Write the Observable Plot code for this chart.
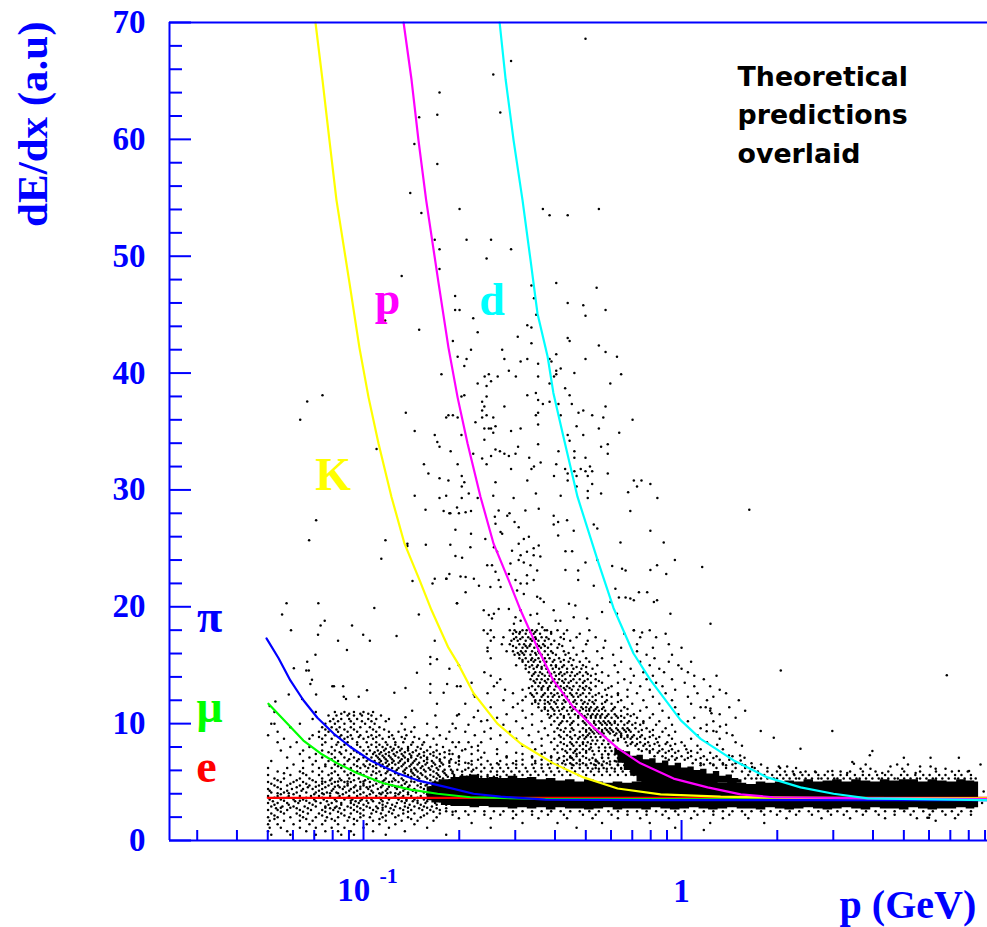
<!DOCTYPE html>
<html><head><meta charset="utf-8">
<script src="https://cdn.jsdelivr.net/npm/d3@7"></script>
<script src="https://cdn.jsdelivr.net/npm/@observablehq/plot@0.6"></script>
<style>html,body{margin:0;padding:0;background:#fff}svg{display:block}</style>
</head><body><div id="chart"></div>
<script>
// All p values are stored as log10(p in GeV); dE/dx in a.u.
const yMajor=[0,10,20,30,40,50,60,70];
const yMinor=[2,4,6,8,12,14,16,18,22,24,26,28,32,34,36,38,42,44,46,48,52,54,56,58,62,64,66,68];
const xMajor=[0.1,1];
const xMinor=[.03,.04,.05,.06,.07,.08,.09,.2,.3,.4,.5,.6,.7,.8,.9,2,3,4,5,6,7,8,9];

// theory curves [log10 p, dE/dx]
const curveE=[[-1.301,3.65],[.962,3.65]];
const curveMu=[[-1.299,11.7],[-1.239,10],[-1.189,8.55],[-1.135,7.45],[-1.082,6.6],[-1.019,5.75],[-.937,4.9],[-.852,4.35],[-.767,4],[-.664,3.7],[-.425,3.55],[.962,3.5]];
const curvePi=[[-1.305,17.3],[-1.267,15.6],[-1.23,13.7],[-1.189,12],[-1.145,10.5],[-1.094,9.15],[-1.041,8],[-.978,6.85],[-.893,5.75],[-.83,5.15],[-.736,4.55],[-.654,4],[-.569,3.75],[-.428,3.5],[-.097,3.45],[.962,3.45]];
const curveK=[[-1.151,70],[-1.129,65.1],[-1.107,59.9],[-1.085,54.8],[-1.044,47.7],[-1.013,42.2],[-.984,37.9],[-.953,34],[-.912,29.4],[-.871,25.4],[-.824,22.3],[-.786,19.7],[-.733,16.5],[-.704,15.2],[-.654,12.6],[-.579,10],[-.506,8.3],[-.403,6.6],[-.308,5.4],[-.201,4.45],[-.066,3.95],[.123,3.75],[.374,3.65],[.962,3.6]];
const curveP=[[-.874,70],[-.849,65.1],[-.827,59.9],[-.803,54.8],[-.764,47.7],[-.733,42.2],[-.704,37.9],[-.673,34],[-.632,29.4],[-.591,25.4],[-.544,22.3],[-.506,19.7],[-.453,16.5],[-.403,13.7],[-.34,11.4],[-.277,9.7],[-.201,7.9],[-.129,6.6],[-.025,5.3],[.082,4.55],[.186,3.95],[.289,3.7],[.626,3.6],[.962,3.55]];
const curveD=[[-.572,70],[-.553,65.1],[-.528,59.9],[-.5,54.8],[-.475,49.7],[-.453,45.1],[-.421,41.4],[-.403,38.3],[-.371,34.5],[-.327,29.4],[-.264,24],[-.214,19.9],[-.151,16],[-.097,13.7],[-.003,10.3],[.06,8.7],[.164,6.85],[.27,5.4],[.374,4.55],[.478,4],[.585,3.6],[.962,3.45]];

// solid band of tracks: log10 p, upper and lower edge
const bandLogP=[-.8,-.77,-.74,-.71,-.68,-.65,-.62,-.59,-.56,-.53,-.5,-.47,-.44,-.41,-.38,-.35,-.32,-.29,-.26,-.23,-.2,-.17,-.14,-.11,-.08,-.05,-.02,.01,.04,.07,.1,.13,.16,.19,.22,.25,.28,.31,.34,.37,.4,.43,.46,.49,.52,.55,.58,.61,.64,.67,.7,.73,.76,.79,.82,.85,.88,.91,.934];
const bandTop=[4.6,5,5.2,5.4,5.5,5.6,5.3,5.4,5.3,5.5,5.3,5.4,5.2,5.3,5.1,5.2,5.0,5.2,5.0,4.9,5.0,4.9,5,5.1,5,5,5.1,5,5.1,5,5,4.9,5,4.9,4.8,5,4.9,5,5.1,5,5.2,5,5.1,5.2,5,5.2,5.1,5,5.2,5.1,5.2,5.2,5,5.2,5.1,5,5.2,5.1,5];
const bandBottom=[3.4,3.2,3,2.9,2.9,2.8,2.9,2.8,2.8,2.7,2.8,2.7,2.8,2.6,2.8,2.7,2.7,2.6,2.7,2.8,2.6,2.7,2.7,2.6,2.8,2.7,2.6,2.7,2.8,2.7,2.6,2.7,2.8,2.7,2.7,2.6,2.8,2.7,2.6,2.7,2.8,2.7,2.6,2.7,2.8,2.7,2.6,2.8,2.7,2.7,2.6,2.8,2.7,2.6,2.7,2.7,2.8,2.7,2.8];
const coreLogP=[-.21,-.19,-.17,-.15,-.13,-.11,-.09,-.07,-.05,-.03,-.01,.01,.03,.05,.07,.09,.11,.13,.15,.17,.19];
const coreTop=[7.9,7.7,7.6,7.2,7.3,6.9,7,6.6,6.8,6.4,6.6,6.2,6.3,6,6.1,5.7,5.9,5.5,5.6,5.3,5.2];
const coreBottom=[7.3,6.6,6,5.5,5,4.9,4.9,4.9,4.9,4.9,4.9,4.9,4.9,4.9,4.9,4.9,4.9,4.9,4.9,4.9,4.9];

// isolated tracks [log10 p, dE/dx, ...]
const sparseTop=[-.302,68.6,-.536,66.7,-.592,65.55,-.761,64,-.768,62.1,-.825,61.9,-.57,62.3,-.84,59.6,-.768,57.9,-.853,55.4,-.698,54.05,-.818,53.7,-.436,54.05,-.415,53.5,-.358,53.5,-.26,54.05,-.776,51.4,-.676,51.4,-.599,51.4,-.761,50.6,-.536,50.6,-.613,49.8,-.761,48.9,-.88,48.3,-.394,47.7,-.472,47.5,-.267,47.3,-.712,46.6,-.464,46.4,-.358,46,-.309,45.8,-.712,45.4,-.698,45.4,-.239,45.4,-.457,45,-.302,44.9,-.655,44.7,-.932,44.5,-.825,43.7,-.485,44.1,-.472,43.9,-.641,43.5,-.515,43.1,-.719,42.75,-.358,43,-.352,42.75,-.472,42.55,-.26,42.35,-.662,42,-.564,42,-.239,41.8,-.704,41.4,-.394,41.6,-.203,41.4,-.676,41.2,-.557,41.2,-.485,41.2,-.506,41,-.415,41.2,-.409,41,-.302,41.2,-.451,40.8,-.683,40.6,-.38,40.4,-.394,40.2,-.543,40.2,-.337,40];
const sparseMid=[-.755,39.9,-.619,39.7,-.606,39.9,-.578,39.7,-.521,39.7,-.451,39.7,-.401,39.7,-.394,39.9,-.19,39.9,-.599,39.3,-.641,39.1,-.415,39.1,-.613,38.9,-.224,39.1,-.366,38.7,-.683,38.1,-.692,38,-.485,38.1,-.458,38.3,-.352,38.1,-.613,38,-.451,37.7,-.627,37.55,-.415,37.55,-.436,37.35,-.387,37.35,-.345,37.35,-.62,37.15,-.557,37.15,-.239,37.15,-.867,36.6,-.627,36.8,-.451,36.6,-.309,36.8,-.324,36.6,-.458,36.4,-.38,36.4,-.74,36.2,-.733,36.4,-.719,36.4,-.704,36.2,-.613,36.4,-.627,36.2,-.592,36.2,-.281,36.4,-.246,36.2,-.154,36,-.648,35.8,-.451,35.6,-.585,35.45,-.62,35.25,-.606,35.25,-.599,35.25,-.536,35.05,-.506,35.25,-.33,35.45,-.26,35.25,-.839,35.05,-.592,34.9,-.776,34.7,-.692,34.7,-.358,34.7,-.309,34.7,-.196,34.9,-.62,34.3,-.352,34.2,-.768,34.1,-.761,33.7,-.451,33.9,-.514,33.7,-.253,33.7,-.232,33.9,-.726,33.3,-.585,33.45,-.571,33.3,-.557,33.1,-.543,32.9,-.522,33.1,-.387,33.3,-.337,33.3,-.232,33.1,-.655,33.1,-.627,32.7,-.599,32.9,-.479,32.75,-.337,32.75,-.302,32.75,-.443,32.35,-.81,32.2,-.704,32.2,-.613,32.2,-.394,32.2,-.536,31.8,-.472,31.8,-.464,32,-.366,31.8,-.317,31.8,-.288,32,-.796,31.4,-.358,31.4,-.337,31.6,-.302,31.6,-.281,31.6,-.232,31.4,-.401,31.2,-.33,31.2,-.295,31.2,-.761,31,-.691,31.2,-.733,30.8,-.485,30.8,-.358,30.8,-.683,30.65,-.585,30.65,-.281,30.5,-.691,30.3,-.33,30.3,-.15,30.8,-.126,30.8,-.098,30.5,-.14,30.3,-.168,29.8,-.295,29.9,-.669,29.7,-.458,29.7,-.253,29.7,-.839,29.5,-.74,29.5,-.761,29.3,-.691,29.3,-.641,29.3,-.592,29.5,-.528,29.3,-.38,29.5,-.295,29.3,-.076,29.3];
const sparseLeft=[-1.129,38.1,-1.177,37.56,-1.199,36,-.959,33.5,-1.149,27.4,-1.171,25.7,-.931,25.7,-.862,25.4,-.862,25.2,-.944,24.1,-.804,25.3,-.846,22.2,-.776,22.4,-.783,22,-.74,22.4,-.73,22.8,-1.242,20.3,-1.142,20.3,-.966,19.9,-.805,28.3,-.748,28.2,-.73,28,-1.256,19.35,-1.122,18.8,-1.135,18.4,-1.036,18.4,-.826,19.35,-.706,20.3,-1.228,18,-1.143,17.6,-1.001,17.6,-.896,17.5,-1.08,17.1,-.98,17.1,-.776,17.1,-1.052,16.3,-1.151,15.9,-.79,15.7,-.769,15.5,-.79,15.1,-1.177,15.3,-1.219,14.75,-1.172,14.55,-1.18,14.55,-.832,14.35,-1.162,13.75,-1.167,13.4,-.79,13.4,-.737,13.4,-.706,13.2,-.695,13.2,-1.098,13.2,-1.093,13.2,-1.064,13.2,-.868,13.05,-.989,12.85,-.903,12.65,-.79,12.65,-.748,12.65,-1.062,12.3,-1.055,12.1,-1.149,12.5,-1.235,12.5,-1.015,12.3,-.653,12.5,-1.277,11.9,-1.193,12.1,-1.295,11.5,-.769,11.7,-.847,11.1,-.774,10.7,-.706,10.7,-.653,10.55,-.868,10.55,-.611,10.3];
const sparseRidgeTop=[-.727,28,-.706,28.5,-.7,28,-.679,28.1,-.662,28.2,-.711,26.6,-.662,26.25,-.587,27.7,-.575,28.25,-.548,27.8,-.541,28,-.525,27.25,-.512,26.8,-.585,27.1,-.569,26.4,-.564,26.25,-.491,28.25,-.449,28.4,-.402,27.8,-.388,27.25,-.402,27.05,-.36,27.4,-.339,26.5,-.388,26.1,-.161,28.2,-.276,27.05,-.265,26.7,-.098,26.5,-.617,25.8,-.727,25.3,-.664,25.1,-.711,24.35,-.69,24.2,-.59,25.1,-.58,24.7,-.496,25.8,-.48,26,-.512,25.4,-.533,24.8,-.506,24.4,-.465,25,-.449,25.25,-.486,24.7,-.465,24.4,-.444,24.3,-.512,24,-.538,23.7,-.365,24.75,-.344,24.75,-.302,23.8,-.265,24,-.218,23.5,-.192,25.5,-.056,25.5,-.021,24,-.611,23.55,-.596,23.55,-.496,23.8,-.475,23.55,-.739,22.4,-.695,22.6,-.679,22.55,-.653,22.4,-.637,21.8,-.585,23,-.575,22.3,-.601,21.7,-.569,21.7,-.543,22.8,-.522,22.3,-.506,22,-.486,22.7,-.454,23.1,-.486,22,-.465,22.3,-.517,21.4,-.496,21.1,-.454,20.85,-.444,20.7,-.365,23.15,-.325,23.1,-.325,22.3,-.276,21.8,-.187,23.25,-.176,23.1,-.098,23.15,-.077,23.55,-.048,22.8,-.208,21.55,-.197,20.8,-.176,20.8,-.161,20.7,-.15,20.55,-.134,21.25,-.108,21.25,.065,23.4,-.679,21.25,-.706,20.3,-.622,19.7,-.606,19.3,-.59,19.4,-.596,19,-.575,19.8,-.543,19.8,-.522,19.1,-.506,19.7,-.527,18.55,-.506,18.8,-.475,19.3,-.454,19.4,-.433,20.4,-.402,19.7,-.396,18.8,-.438,18.25,-.423,18,-.449,18.55,-.381,18.8,-.354,20.25,-.334,20.1,-.339,19.1,-.297,19,-.25,19.55,-.203,19.4,-.224,20.4,-.087,20.4,-.077,20.55,-.035,19.4,.091,18.55,-.15,18,-.124,17.8,.213,28.3,.312,14.55,.834,14.15];
const sparseRight=[.076,11.4,.091,11.3,.094,10.9,.121,9.76,.079,9.9,.079,9.35,.1,9.36,.142,9.2,.249,9.36,.29,8.8,.474,9.36,.17,8.4,.112,8.2,.374,7.85,.6,7.65,.592,7.3,.149,7.28,.184,7.28,.198,7.08,.186,6.85,.222,6.28,.306,6.34,.332,6.34,.353,5.7,.374,5.85,.422,5.85,.474,5.94,.521,5.77,.537,6.71,.542,6.57,.579,6.51,.563,6.14,.594,6.14,.657,6.34,.678,6.51,.694,6.14,.699,7.08,.712,6.51,.75,6.34,.783,7.08,.783,6.34,.736,5.77,.799,6.14,.83,6.14,.872,7.08,.872,5.94,.904,5.94,.94,6.51,.631,5.77,.07,.9,.799,1.7,.773,1.95,.778,1.95,.95,4.2,.945,3.2];

// denser regions read row by row: [dE/dx, log10 p, log10 p, ...]
const ridgeRows=[
[18,-.622,-.6,-.54,-.525,-.5,-.487,-.47,-.455,-.43,-.39,-.36,-.29,-.15,-.1],
[17.7,-.61,-.53,-.51,-.49,-.465,-.445,-.41,-.37,-.32,-.18,-.05],
[17.4,-.59,-.56,-.52,-.5,-.482,-.46,-.44,-.425,-.38,-.33,-.27,-.13,-.08],
[17.1,-.6,-.535,-.515,-.49,-.47,-.45,-.43,-.4,-.35,-.295,-.24],
[16.8,-.565,-.54,-.51,-.495,-.475,-.455,-.435,-.41,-.385,-.3,-.14,-.04],
[16.5,-.61,-.52,-.5,-.485,-.463,-.442,-.42,-.39,-.34,-.245,-.19,-.09,0],
[16.2,-.61,-.55,-.53,-.505,-.49,-.47,-.45,-.43,-.41,-.37,-.31,-.265,-.14],
[15.9,-.525,-.51,-.495,-.475,-.457,-.44,-.42,-.395,-.365,-.33,-.215,-.11,-.03],
[15.6,-.6,-.51,-.49,-.47,-.45,-.43,-.415,-.385,-.35,-.3,-.25,-.085],
[15.3,-.5,-.482,-.465,-.445,-.425,-.405,-.38,-.355,-.32,-.29,-.19,-.13,-.04,.03],
[15,-.7,-.52,-.49,-.47,-.452,-.43,-.41,-.395,-.37,-.345,-.31,-.265,-.21,-.1,-.01],
[14.7,-.73,-.49,-.465,-.44,-.425,-.405,-.385,-.36,-.34,-.315,-.28,-.16,-.07,0],
[14.4,-.62,-.48,-.46,-.445,-.42,-.4,-.38,-.36,-.345,-.32,-.3,-.25,-.2,-.12,-.055,.02],
[14.1,-.6,-.47,-.45,-.43,-.415,-.395,-.375,-.35,-.335,-.31,-.285,-.23,-.15,-.09,.04,.11],
[13.8,-.57,-.475,-.455,-.44,-.42,-.4,-.385,-.365,-.34,-.32,-.295,-.27,-.18,-.11,-.03,.07],
[13.5,-.66,-.58,-.46,-.445,-.425,-.41,-.39,-.37,-.355,-.33,-.31,-.285,-.25,-.2,-.16,-.08,.01],
[13.2,-.59,-.47,-.45,-.435,-.415,-.395,-.38,-.36,-.34,-.32,-.3,-.27,-.22,-.13,-.06,.04,.09],
[12.9,-.555,-.5,-.46,-.44,-.42,-.4,-.38,-.365,-.345,-.325,-.305,-.285,-.24,-.17,-.1,-.02,.12],
[12.6,-.61,-.53,-.475,-.455,-.43,-.41,-.39,-.37,-.35,-.33,-.31,-.29,-.26,-.2,-.14,-.05,.05,.14],
[12.3,-.65,-.49,-.465,-.44,-.42,-.405,-.385,-.36,-.34,-.325,-.3,-.28,-.25,-.22,-.17,-.09,.02,.1],
[12,-.56,-.5,-.46,-.445,-.43,-.41,-.39,-.37,-.355,-.335,-.315,-.29,-.27,-.235,-.19,-.12,-.03,.08,.18],
[11.7,-.68,-.515,-.47,-.45,-.43,-.415,-.395,-.375,-.35,-.33,-.31,-.295,-.275,-.25,-.22,-.155,-.07,.03],
[11.4,-.6,-.53,-.45,-.43,-.41,-.39,-.37,-.35,-.335,-.315,-.3,-.285,-.265,-.245,-.21,-.18,-.11,-.02,.06,.15],
[11.1,-.64,-.5,-.44,-.42,-.4,-.385,-.36,-.345,-.32,-.3,-.29,-.275,-.26,-.24,-.22,-.19,-.13,-.06,.09,.2],
[10.8,-.7,-.55,-.47,-.42,-.4,-.38,-.355,-.335,-.315,-.295,-.28,-.265,-.25,-.23,-.21,-.17,-.15,-.09,-.01,.12],
[10.5,-.58,-.49,-.415,-.39,-.37,-.35,-.325,-.3,-.285,-.27,-.255,-.24,-.22,-.2,-.18,-.14,-.1,-.04,.04,.17],
[10.2,-.63,-.52,-.44,-.4,-.375,-.36,-.34,-.31,-.295,-.275,-.26,-.245,-.23,-.21,-.19,-.165,-.12,-.07,.02,.1],
[9.9,-.67,-.56,-.47,-.41,-.385,-.35,-.325,-.3,-.285,-.27,-.25,-.235,-.22,-.2,-.18,-.155,-.13,-.08,-.03,.14],
[9.6,-.71,-.6,-.5,-.43,-.39,-.365,-.345,-.31,-.29,-.275,-.26,-.24,-.225,-.205,-.185,-.17,-.145,-.11,-.05,.06],
[9.3,-.62,-.54,-.45,-.4,-.37,-.35,-.32,-.3,-.28,-.265,-.25,-.23,-.215,-.195,-.175,-.16,-.135,-.1,-.06,-.02,.11],
[9,-.65,-.57,-.48,-.42,-.385,-.36,-.335,-.31,-.295,-.21,-.19,-.17,-.15,-.125,-.09,-.04,.05,.16],
[8.7,-.6,-.52,-.44,-.4,-.37,-.345,-.325,-.305,-.2,-.18,-.16,-.14,-.115,-.08,-.03,.03,.12],
[8.4,-.7,-.55,-.47,-.41,-.38,-.35,-.33,-.31,-.295,-.175,-.155,-.13,-.105,-.075,-.045,0,.08],
[8.1,-.64,-.5,-.44,-.39,-.36,-.34,-.32,-.3,-.17,-.145,-.12,-.1,-.07,-.035,.01,.05,.19],
[7.8,-.68,-.58,-.46,-.4,-.375,-.35,-.33,-.31,-.29,-.135,-.11,-.09,-.06,-.03,.015,.06,.13],
[7.5,-.62,-.52,-.43,-.39,-.36,-.34,-.32,-.3,-.1,-.075,-.05,-.02,.02,.05,.09],
[7.2,-.7,-.55,-.47,-.41,-.37,-.35,-.33,-.31,-.085,-.06,-.03,0,.03,.07,.11,.16],
[6.9,-.64,-.5,-.44,-.39,-.36,-.34,-.32,-.29,-.27,-.04,-.02,.01,.045,.08,.12,.15],
[6.6,-.67,-.58,-.53,-.46,-.41,-.375,-.35,-.33,-.31,-.285,-.26,-.235,.035,.06,.09,.13,.17,.22]];
const ridgeFillRows=[
[17.85,-.52,-.508,-.476,-.46,-.41],[17.25,-.527,-.507,-.475,-.458,-.418,-.37],[16.65,-.53,-.49,-.478,-.448,-.43,-.375],
[16.05,-.515,-.5,-.46,-.447,-.405,-.355],[15.45,-.5,-.473,-.46,-.435,-.4,-.37,-.34],[14.85,-.478,-.455,-.44,-.395,-.375,-.33,-.3],
[14.25,-.465,-.438,-.41,-.385,-.368,-.328,-.295,-.27],[13.65,-.465,-.43,-.405,-.375,-.348,-.305,-.26],[13.05,-.48,-.44,-.42,-.37,-.352,-.31,-.29,-.23],
[12.45,-.47,-.435,-.4,-.375,-.345,-.318,-.27,-.235,-.2],[11.85,-.46,-.42,-.4,-.365,-.34,-.305,-.28,-.24,-.2],[11.25,-.43,-.405,-.375,-.34,-.31,-.29,-.27,-.25,-.215,-.17],
[10.65,-.41,-.37,-.325,-.305,-.285,-.27,-.255,-.235,-.205,-.19,-.16],[10.05,-.38,-.345,-.305,-.29,-.275,-.255,-.24,-.225,-.21,-.17,-.145,-.12],[9.45,-.38,-.34,-.3,-.285,-.27,-.25,-.235,-.22,-.2,-.18,-.165,-.125,-.09],
[9.15,-.29,-.275,-.26,-.245,-.225,-.205,-.19],[8.85,-.38,-.35,-.32,-.3,-.285,-.27,-.255,-.24,-.19,-.17,-.155,-.13,-.1,-.07],[8.55,-.28,-.265,-.245,-.23,-.215,-.2],[8.25,-.37,-.345,-.31,-.285,-.27,-.25,-.23,-.16,-.14,-.115,-.085,-.05,-.02],
[7.95,-.285,-.26,-.24,-.225,-.205],[7.65,-.365,-.335,-.3,-.28,-.26,-.24,-.22,-.125,-.1,-.07,-.04,-.01,.03],[7.35,-.275,-.25,-.23,-.21,-.19],[7.05,-.385,-.345,-.3,-.28,-.25,-.23,-.2,-.18,-.05,-.015,.02,.06,.1],
[6.75,-.265,-.245,-.225,-.205,-.185,-.17],[6.45,-.34,-.3,-.27,-.25,-.2,-.18,.06,.1,.14,.2],[6.15,-.28,-.26,-.235,-.21,-.19,-.175,-.16]];
const leftRows=[
[11,-1.28,-1.15,-1.09,-1.06,-1.03,-1,-.97],
[10.7,-1.11,-1.085,-1.05,-1.03,-1.005,-.975,-.945],
[10.4,-1.16,-1.095,-1.07,-1.045,-1.02,-.985,-.96,-.92],
[10,-1.29,-1.28,-1.2,-1.12,-1.09,-1.06,-1.03,-.995,-.965,-.88,-.8,-.72],
[9.7,-1.23,-1.13,-1.1,-1.075,-1.04,-1.01,-.98,-.95,-.84,-.77],
[9.3,-1.27,-1.14,-1.11,-1.08,-1.05,-1.02,-.99,-.96,-.92,-.89,-.85,-.73,-.68],
[9,-1.3,-1.16,-1.12,-1.09,-1.07,-1.04,-1.01,-.975,-.95,-.91,-.865,-.8,-.76],
[8.7,-1.25,-1.17,-1.13,-1.1,-1.06,-1.035,-1,-.97,-.94,-.905,-.87,-.825,-.78,-.74],
[8.4,-1.27,-1.21,-1.12,-1.08,-1.05,-1.02,-.99,-.96,-.93,-.9,-.875,-.845,-.81,-.72,-.67,-.63],
[8,-1.23,-1.17,-1.1,-1.07,-1.04,-1.01,-.985,-.96,-.94,-.915,-.89,-.86,-.83,-.79,-.75,-.71,-.66],
[7.7,-1.26,-1.19,-1.13,-1.09,-1.055,-1.03,-1,-.98,-.955,-.935,-.91,-.885,-.86,-.835,-.8,-.77,-.73,-.69,-.64],
[7.4,-1.2,-1.15,-1.1,-1.07,-1.04,-1.01,-.99,-.97,-.95,-.93,-.905,-.88,-.855,-.825,-.79,-.76,-.73,-.72,-.66,-.58,-.5,-.44,-.33,-.23],
[7.1,-1.24,-1.17,-1.13,-1.09,-1.06,-1.03,-1,-.975,-.955,-.935,-.915,-.89,-.87,-.85,-.82,-.8,-.77,-.745,-.7,-.63,-.55,-.47,-.41,-.35,-.25],
[6.8,-1.29,-1.19,-1.15,-1.11,-1.08,-1.05,-1.02,-.99,-.965,-.945,-.925,-.905,-.885,-.86,-.84,-.81,-.785,-.76,-.73,-.7,-.66,-.61,-.57,-.52,-.46,-.41,-.37,-.32,-.27,-.21],
[6.5,-1.22,-1.16,-1.12,-1.09,-1.06,-1.03,-1,-.98,-.96,-.94,-.92,-.9,-.875,-.85,-.83,-.805,-.775,-.75,-.7,-.66,-.63,-.6,-.575,-.55,-.52,-.5,-.47,-.44,-.42,-.39,-.365,-.345,-.32,-.3,-.275,-.25,-.225,-.2,.07,.1,.13,.16,.19,.25],
[6.2,-1.3,-1.24,-1.19,-1.14,-1.1,-1.07,-1.04,-1.01,-.985,-.96,-.935,-.91,-.89,-.865,-.84,-.82,-.795,-.77,-.67,-.645,-.62,-.595,-.57,-.545,-.52,-.49,-.465,-.44,-.415,-.39,-.37,-.345,-.32,-.295,-.27,-.245,-.22,-.19,-.165,.11,.14,.17,.2,.23,.27,.31,.36],
[5.9,-1.27,-1.2,-1.16,-1.13,-1.09,-1.06,-1.02,-.99,-.97,-.95,-.925,-.9,-.875,-.85,-.83,-.805,-.78,-.75,-.72,-.69,-.66,-.63,-.6,-.58,-.56,-.535,-.51,-.485,-.46,-.435,-.41,-.385,-.36,-.335,-.31,-.285,-.26,-.235,-.21,-.185,-.16,-.135,.16,.19,.215,.24,.27,.3,.325,.35,.39,.42,.46,.5,.53,.57,.61,.65,.7,.75,.8,.85,.9],
[5.6,-1.3,-1.23,-1.18,-1.14,-1.11,-1.08,-1.05,-1.03,-1,-.975,-.945,-.915,-.89,-.86,-.84,-.815,-.79,-.765,-.74,-.715,-.69,-.665,-.64,-.61,-.58,-.55,-.525,-.5,-.475,-.45,-.425,-.4,-.375,-.35,-.325,-.3,-.275,-.25,-.225,-.2,-.175,-.15,.21,.24,.26,.285,.31,.33,.355,.38,.4,.43,.45,.475,.5,.52,.545,.57,.59,.615,.64,.66,.69,.71,.735,.76,.78,.81,.83,.86,.88,.91],
[5.3,-1.28,-1.25,-1.2,-1.17,-1.13,-1.1,-1.075,-1.045,-1.015,-.985,-.96,-.93,-.905,-.88,-.85,-.825,-.8,-.77,-.75,.2,.22,.235,.25,.27,.29,.3,.32,.34,.36,.37,.39,.41,.43,.44,.46,.48,.49,.51,.53,.55,.56,.58,.6,.62,.63,.65,.67,.68,.7,.72,.74,.75,.77,.79,.8,.82,.84,.86,.87,.89,.91,.925],
[5,-1.3,-1.26,-1.22,-1.19,-1.15,-1.12,-1.09,-1.06,-1.04,-1.01,-.98,-.95,-.92,-.89,-.865,-.84,-.81],
[4.7,-1.28,-1.24,-1.2,-1.17,-1.14,-1.11,-1.08,-1.05,-1.025,-1,-.97,-.94,-.91,-.88,-.855,-.83,-.805],
[4.4,-1.3,-1.26,-1.225,-1.19,-1.16,-1.13,-1.095,-1.065,-1.04,-1.01,-.985,-.955,-.925,-.895,-.87,-.84,-.81,-.785],
[4.1,-1.29,-1.25,-1.21,-1.18,-1.15,-1.115,-1.085,-1.055,-1.03,-1,-.97,-.94,-.915,-.885,-.86,-.835,-.81],
[3.8,-1.3,-1.27,-1.235,-1.2,-1.165,-1.14,-1.105,-1.075,-1.045,-1.02,-.99,-.96,-.93,-.9,-.875,-.85,-.82,-.795],
[3.5,-1.295,-1.26,-1.22,-1.19,-1.155,-1.125,-1.09,-1.06,-1.035,-1.005,-.975,-.945,-.92,-.89,-.865,-.84,-.81],
[3.2,-1.3,-1.27,-1.24,-1.205,-1.17,-1.135,-1.1,-1.07,-1.04,-1.015,-.985,-.95,-.925,-.895,-.87,-.83,-.805,-.775],
[2.9,-1.29,-1.255,-1.22,-1.185,-1.15,-1.12,-1.085,-1.05,-1.02,-.99,-.96,-.93,-.9,-.87,-.84,-.81,-.785],
[2.6,-1.3,-1.27,-1.24,-1.2,-1.165,-1.13,-1.095,-1.06,-1.03,-1,-.97,-.94,-.905,-.875,-.85,-.815,-.79,-.76],
[2.3,-1.29,-1.25,-1.21,-1.175,-1.14,-1.105,-1.07,-1.04,-1.01,-.975,-.945,-.91,-.875,-.84,-.8,-.76],
[2,-1.3,-1.27,-1.23,-1.19,-1.15,-1.115,-1.08,-1.045,-1.01,-.98,-.94,-.9,-.86,-.82,-.77],
[1.7,-1.295,-1.25,-1.2,-1.16,-1.12,-1.09,-1.05,-1.02,-.97,-.93,-.88,-.83,-.78],
[1.4,-1.3,-1.27,-1.22,-1.17,-1.13,-1.08,-1.03,-.99,-.95,-.9,-.84],
[1.1,-1.295,-1.26,-1.2,-1.15,-1.1,-1.06,-1,-.92,-.8],
[.8,-1.3,-1.24,-1.18,-1.12,-1.08,-1.04,-.97,-.87],
[.5,-1.29,-1.23,-1.15,-1.07,-1.03,-.93,-.74]];
const leftFillRows=[
[10.85,-1.07,-1.045,-1.01,-.985],[10.2,-1.105,-1.08,-1.04,-1.005,-.975,-.93],[9.5,-1.12,-1.085,-1.06,-1.03,-.97,-.935,-.87],
[8.85,-1.14,-1.075,-1.05,-1.015,-.985,-.96,-.92,-.88,-.84],[8.2,-1.13,-1.085,-1.06,-1.02,-.975,-.95,-.925,-.9,-.85,-.815,-.77],[7.55,-1.11,-1.075,-1.02,-.965,-.945,-.92,-.895,-.87,-.845,-.81,-.78,-.745],
[6.95,-1.1,-1.045,-1.015,-.985,-.95,-.93,-.91,-.88,-.86,-.835,-.8,-.76,-.725],[6.35,-1.12,-1.08,-1.02,-.995,-.97,-.945,-.925,-.88,-.855,-.815,-.785,-.76,-.73],[5.75,-1.25,-1.19,-1.1,-1.04,-1.01,-.96,-.93,-.9,-.87,-.845,-.82,-.77,-.745,-.72],
[5.15,-1.27,-1.21,-1.16,-1.105,-1.07,-1.03,-.995,-.965,-.935,-.9,-.875,-.83,-.79,-.76,-.73,-.7,-.67,-.64,-.6],[4.85,-1.29,-1.23,-1.18,-1.13,-1.1,-1.05,-1,-.96,-.93,-.87,-.82,-.78,-.75,-.72],[4.55,-1.27,-1.21,-1.175,-1.12,-1.075,-1.03,-.99,-.945,-.9,-.86,-.82,-.79,-.76,-.73],
[4.25,-1.295,-1.24,-1.195,-1.14,-1.1,-1.045,-1.02,-.975,-.93,-.875,-.845,-.79,-.75],[3.95,-1.26,-1.22,-1.155,-1.125,-1.065,-1.01,-.98,-.945,-.89,-.86,-.8,-.77,-.74],[3.65,-1.28,-1.24,-1.18,-1.13,-1.08,-1.05,-1,-.95,-.905,-.88,-.83,-.79,-.76],
[3.35,-1.285,-1.215,-1.15,-1.115,-1.085,-1.025,-.97,-.94,-.88,-.845,-.8,-.76,-.735],[3.05,-1.28,-1.235,-1.16,-1.11,-1.07,-1.03,-1,-.94,-.91,-.855,-.82,-.77,-.74],[2.75,-1.275,-1.21,-1.175,-1.105,-1.075,-1.01,-.955,-.915,-.885,-.825,-.77,-.74],
[2.45,-1.26,-1.19,-1.12,-1.08,-1.02,-.96,-.92,-.86,-.78,-.72],[2.15,-1.28,-1.2,-1.13,-1.06,-1,-.93,-.89,-.81],[1.85,-1.28,-1.18,-1.1,-1.03,-.95,-.85]];
const clumpRows=[
[7.85,-.93,-.905,-.88,-.86,-.82],[7.25,-.96,-.94,-.92,-.9,-.875,-.85,-.83,-.81,-.78],[6.65,-.95,-.93,-.91,-.89,-.87,-.845,-.825,-.8,-.78,-.755,-.73,-.71,-.68],
[6.05,-.92,-.895,-.87,-.85,-.835,-.81,-.79,-.765,-.745,-.725,-.705,-.68,-.655],[5.45,-.85,-.83,-.805,-.78,-.76,-.735,-.715,-.695,-.675,-.655,-.63,-.61,-.59,-.57],
[5.05,-1.13,-1.08,-1.05,-1,-.94,-.91,-.85,-.775,-.76,-.745,-.73,-.72],[4.8,-.8,-.775,-.76,-.74,-.725],[4.6,-1.15,-1.09,-1.06,-1.01,-.98,-.92,-.89],
[4.3,-.77,-.755,-.735,-.72],[4.05,-1.27,-1.235,-1.13,-1.105,-1.08,-.95,-.925,-.9],[3.9,-.785,-.75,-.73],[3.4,-1.25,-1.2,-1.18,-1.04,-1.01,-.99,-.865,-.83],[2.8,-1.26,-1.23,-1.12,-1.09,-1.04,-.98,-.94,-.86,-.8]];
const lowerRows=[
[2.5,-.74,-.71,-.68,-.65,-.62,-.59,-.56,-.53,-.5,-.47,-.44,-.41,-.38,-.35,-.32,-.29,-.26,-.23,-.2,-.17,-.14,-.11,-.08,-.05,-.02,.01,.04,.07,.1,.13,.16,.19,.22,.25,.28,.31,.34,.37,.4,.43,.46,.49,.52,.55,.58,.61,.64,.67,.7,.73,.76,.79,.82,.85,.88,.91],
[2.2,-.72,-.67,-.62,-.57,-.52,-.47,-.42,-.37,-.31,-.27,-.22,-.17,-.11,-.06,-.01,.05,.1,.15,.2,.26,.3,.36,.41,.47,.51,.57,.62,.67,.72,.78,.83,.87,.91],
[1.9,-.7,-.6,-.53,-.45,-.36,-.28,-.2,-.13,-.04,.03,.13,.21,.33,.44,.53,.64,.74,.86],
[1.5,-.66,-.5,-.39,-.25,-.1,.09,.26],
[1.1,-.6,-.33,-.02]];

const pairs=f=>d3.range(0,f.length,2).map(i=>({lp:f[i],v:f[i+1]}));
const rows=r=>r.flatMap(([v,...lps])=>lps.map(lp=>({lp,v})));
const tracks=[...pairs(sparseTop),...pairs(sparseMid),...pairs(sparseLeft),...pairs(sparseRidgeTop),...pairs(sparseRight),...rows(ridgeRows),...rows(ridgeFillRows),...rows(leftRows),...rows(leftFillRows),...rows(clumpRows),...rows(lowerRows)];
const band=bandLogP.map((lp,i)=>({lp,top:bandTop[i],bot:bandBottom[i]}));
const core=coreLogP.map((lp,i)=>({lp,top:coreTop[i],bot:coreBottom[i]}));

// particle labels
const labelText=["e","\u03bc","\u03c0","K","p","d"];
const labelP=[.0321,.0328,.0328,.0802,.119,.2535];
const labelV=[6.25,11.4,19.1,31.25,46.3,46.2];
const curveColors=["#ff0000","#00ff00","#0000ff","#ffff00","#ff00ff","#00ffff"];
const curves=[curveE,curveMu,curvePi,curveK,curveP,curveD];
const noteLines=["Theoretical","predictions","overlaid"];
const noteV=[65.3,62.05,58.7];

const BLUE="#0000ff", SERIF="'Liberation Serif',serif";
const px=d=>10**d[0], vy=d=>d[1];
const plot=Plot.plot({
  width:987,height:927,marginLeft:169,marginRight:0,marginTop:22,marginBottom:87,
  style:{background:"#fff",overflow:"visible"},
  x:{type:"log",domain:[10**(-1.61),10**.962],axis:null},
  y:{domain:[0,70],axis:null},
  marks:[
    Plot.areaY(band,{x:d=>10**d.lp,y1:"bot",y2:"top",fill:"#000",curve:"step"}),
    Plot.areaY(core,{x:d=>10**d.lp,y1:"bot",y2:"top",fill:"#000",curve:"step"}),
    Plot.dot(tracks,{x:d=>10**d.lp,y:"v",r:1.25,fill:"#000",stroke:null}),
    ...curves.map((c,i)=>Plot.line(c,{x:px,y:vy,stroke:curveColors[i],strokeWidth:2.2,curve:"linear"})),
    Plot.ruleY([0,70],{stroke:BLUE,strokeWidth:2}),
    Plot.ruleX([10**(-1.61)],{stroke:BLUE,strokeWidth:2}),
    Plot.axisY(yMajor,{anchor:"left",tickSize:-22,tickFormat:()=>"",stroke:BLUE,strokeWidth:2}),
    Plot.axisY(yMinor,{anchor:"left",tickSize:-13,tickFormat:()=>"",stroke:BLUE,strokeWidth:2}),
    Plot.axisX(xMajor,{anchor:"bottom",tickSize:-20,tickFormat:()=>"",stroke:BLUE,strokeWidth:2}),
    Plot.axisX(xMinor,{anchor:"bottom",tickSize:-10,tickFormat:()=>"",stroke:BLUE,strokeWidth:2}),
    Plot.axisY(yMajor,{anchor:"left",tickSize:0,tickPadding:24,fontSize:33,fontWeight:"bold",fontFamily:SERIF,fill:BLUE}),
    Plot.text(["10"],{x:[.0931],y:[-4.25],text:d=>d,fontSize:33,fontWeight:"bold",fontFamily:SERIF,fill:BLUE}),
    Plot.text(["-1"],{x:[.12],y:[-3.05],text:d=>d,fontSize:22,fontWeight:"bold",fontFamily:SERIF,fill:BLUE}),
    Plot.text(["1"],{x:[1],y:[-4.4],text:d=>d,fontSize:33,fontWeight:"bold",fontFamily:SERIF,fill:BLUE}),
    Plot.text(["p (GeV)"],{x:[5.15],y:[-5.5],text:d=>d,fontSize:40,fontWeight:"bold",fontFamily:SERIF,fill:BLUE}),
    Plot.text(["dE/dx (a.u)"],{x:[.00916],y:[61.3],text:d=>d,rotate:-90,fontSize:43,fontWeight:"bold",fontFamily:SERIF,fill:BLUE}),
    Plot.text(labelText,{x:labelP,y:labelV,text:d=>d,fontSize:46,fontWeight:"bold",fontFamily:SERIF,fill:(d,i)=>curveColors[i]}),
    Plot.text(noteLines,{x:noteLines.map(()=>1.5),y:noteV,text:d=>d,textAnchor:"start",fontSize:26.8,fontWeight:"bold",fontFamily:"'DejaVu Sans',sans-serif",fill:"#000"})
  ]
});
document.getElementById("chart").append(plot);
</script></body></html>
